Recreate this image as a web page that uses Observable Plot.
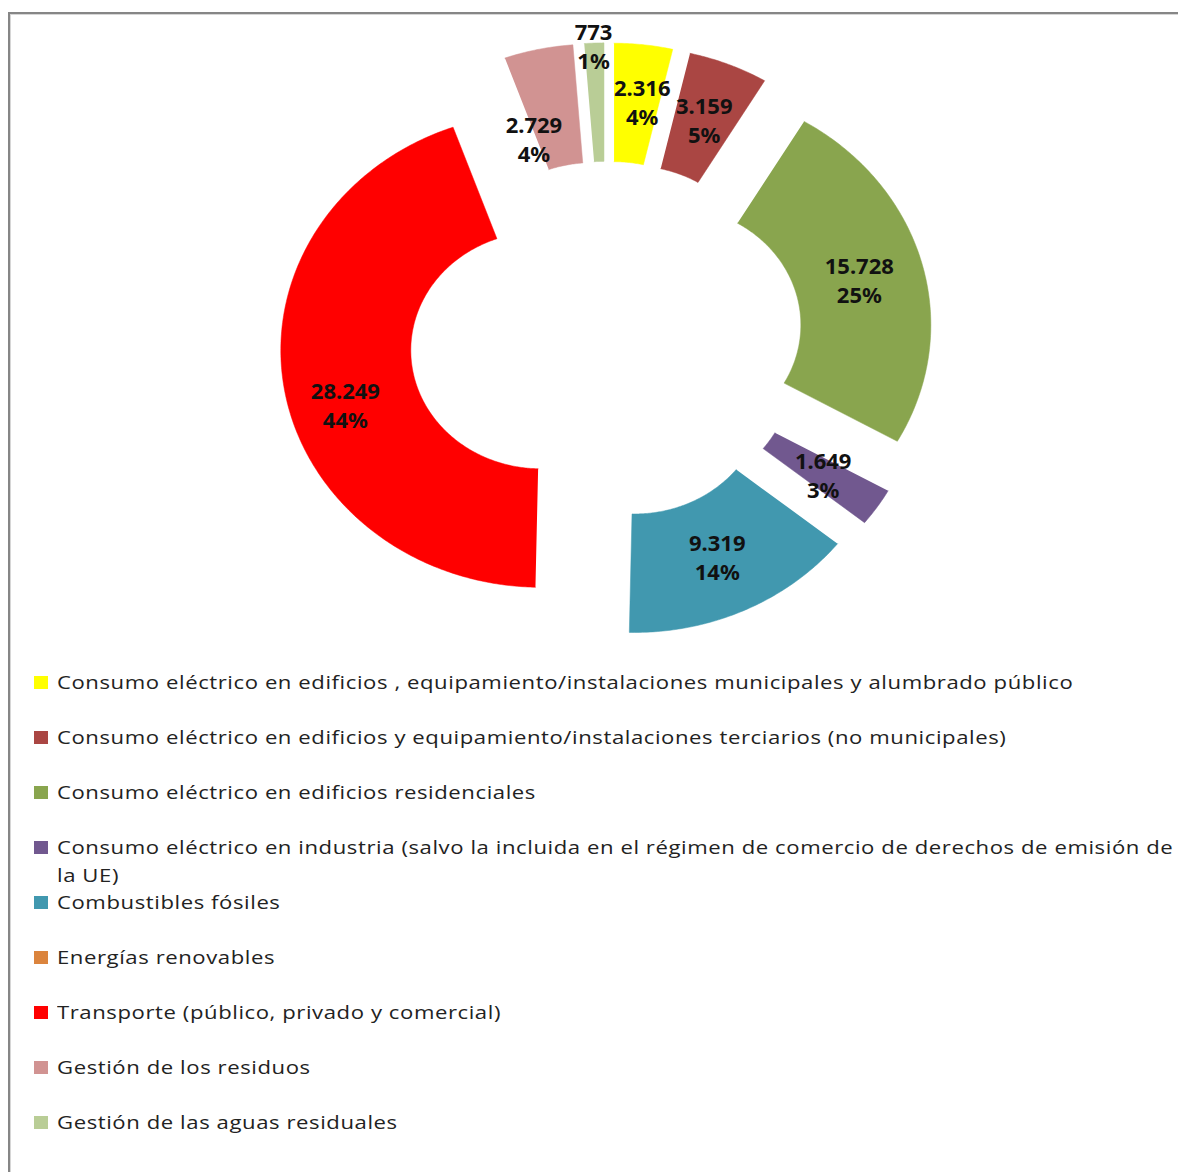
<!DOCTYPE html>
<html><head><meta charset="utf-8">
<script src="https://cdn.jsdelivr.net/npm/d3@7"></script>
<script src="https://cdn.jsdelivr.net/npm/@observablehq/plot@0.6"></script>
<style>
html,body{margin:0;padding:0;background:#fff;width:1178px;height:1172px;overflow:hidden;}
#frame{position:absolute;left:8px;top:12px;width:1200px;height:1200px;border-left:2px solid #868686;border-top:2px solid #868686;box-shadow:inset 1px 1px 0 #d6d6d6;}
#chart{position:absolute;left:0;top:0;}
#legend{position:absolute;left:0;top:0;font-family:"Open Sans";font-size:19px;color:#222;}
.item{position:absolute;left:34px;width:1140px;height:56px;}
.sw{position:absolute;left:0;top:8px;width:14px;height:13px;}
.tx{position:absolute;left:23px;top:0;width:964px;line-height:28px;letter-spacing:0.5px;transform:scaleX(1.163);transform-origin:0 0;}
</style></head><body>
<div id="frame"></div>
<div id="chart"></div>
<div id="legend"></div>
<script>
// ---- data ----
const categories = [
  "Consumo eléctrico en edificios , equipamiento/instalaciones municipales y alumbrado público",
  "Consumo eléctrico en edificios y equipamiento/instalaciones terciarios (no municipales)",
  "Consumo eléctrico en edificios residenciales",
  "Consumo eléctrico en industria (salvo la incluida en el régimen de comercio de derechos de emisión de la UE)",
  "Combustibles fósiles",
  "Energías renovables",
  "Transporte (público, privado y comercial)",
  "Gestión de los residuos",
  "Gestión de las aguas residuales"
];
const values = [2316, 3159, 15728, 1649, 9319, 0, 28249, 2729, 773];
const valueLabels = ["2.316", "3.159", "15.728", "1.649", "9.319", "0", "28.249", "2.729", "773"];
const percentLabels = ["4%", "5%", "25%", "3%", "14%", "0%", "44%", "4%", "1%"];
const colors = ["#FFFF00", "#AA4643", "#89A54E", "#71588F", "#4198AF", "#DB843D", "#FF0000", "#D19392", "#B9CD96"];

// ---- layout (not data) ----
const W = 1178, H = 650;
const CX = 606, CY = 340, RX = 260, RY = 237;
const HOLE = 0.5, EXPLODE = 0.256, LABEL_R = 0.75;
const labelNudge = {0: [6, -2], 6: [-3, 25], 7: [-18, 31], 8: [-3, -57]};

const rows = categories.map((name, i) => ({name, value: values[i], i}));
const arcs = d3.pie().sort(null).value(d => d.value).startAngle(0).endAngle(2 * Math.PI)(rows);

const polys = [];
const labels = [];
for (const a of arcs) {
  if (a.data.value <= 0) continue;
  const mid = (a.startAngle + a.endAngle) / 2;
  const ox = EXPLODE * Math.sin(mid), oy = EXPLODE * Math.cos(mid);
  const n = Math.max(4, Math.ceil((a.endAngle - a.startAngle) / 0.01));
  for (let k = 0; k <= n; k++) {
    const t = a.startAngle + (a.endAngle - a.startAngle) * k / n;
    polys.push({name: a.data.name, x: ox + Math.sin(t), y: oy + Math.cos(t)});
  }
  for (let k = n; k >= 0; k--) {
    const t = a.startAngle + (a.endAngle - a.startAngle) * k / n;
    polys.push({name: a.data.name, x: ox + HOLE * Math.sin(t), y: oy + HOLE * Math.cos(t)});
  }
  const nd = labelNudge[a.data.i] || [0, 0];
  labels.push({
    x: ox + LABEL_R * Math.sin(mid),
    y: oy + LABEL_R * Math.cos(mid),
    text: valueLabels[a.data.i] + "\n" + percentLabels[a.data.i],
    dx: nd[0], dy: nd[1]
  });
}

const chart = Plot.plot({
  width: W, height: H, margin: 0,
  x: {domain: [-CX / RX, (W - CX) / RX], axis: null},
  y: {domain: [-(H - CY) / RY, CY / RY], axis: null},
  color: {domain: categories, range: colors},
  style: {background: "transparent", overflow: "visible"},
  marks: [
    Plot.line(polys, {x: "x", y: "y", z: "name", fill: "name", stroke: "name", strokeWidth: 0.5, curve: "linear"}),
    ...labels.map(l => Plot.text([l], {
      x: "x", y: "y", text: "text", dx: l.dx, dy: l.dy,
      fontFamily: "Noto Sans", fontWeight: "bold", fontSize: 22, lineHeight: 1.32,
      fill: "#111", letterSpacing: "2px"
    }))
  ]
});
document.getElementById("chart").appendChild(chart);

// ---- legend ----
const legend = document.getElementById("legend");
categories.forEach((name, i) => {
  const item = document.createElement("div");
  item.className = "item";
  item.style.top = (668 + 55 * i) + "px";
  const sw = document.createElement("span");
  sw.className = "sw";
  sw.style.background = colors[i];
  const tx = document.createElement("span");
  tx.className = "tx";
  tx.textContent = name;
  item.appendChild(sw);
  item.appendChild(tx);
  legend.appendChild(item);
});
</script>
</body></html>
